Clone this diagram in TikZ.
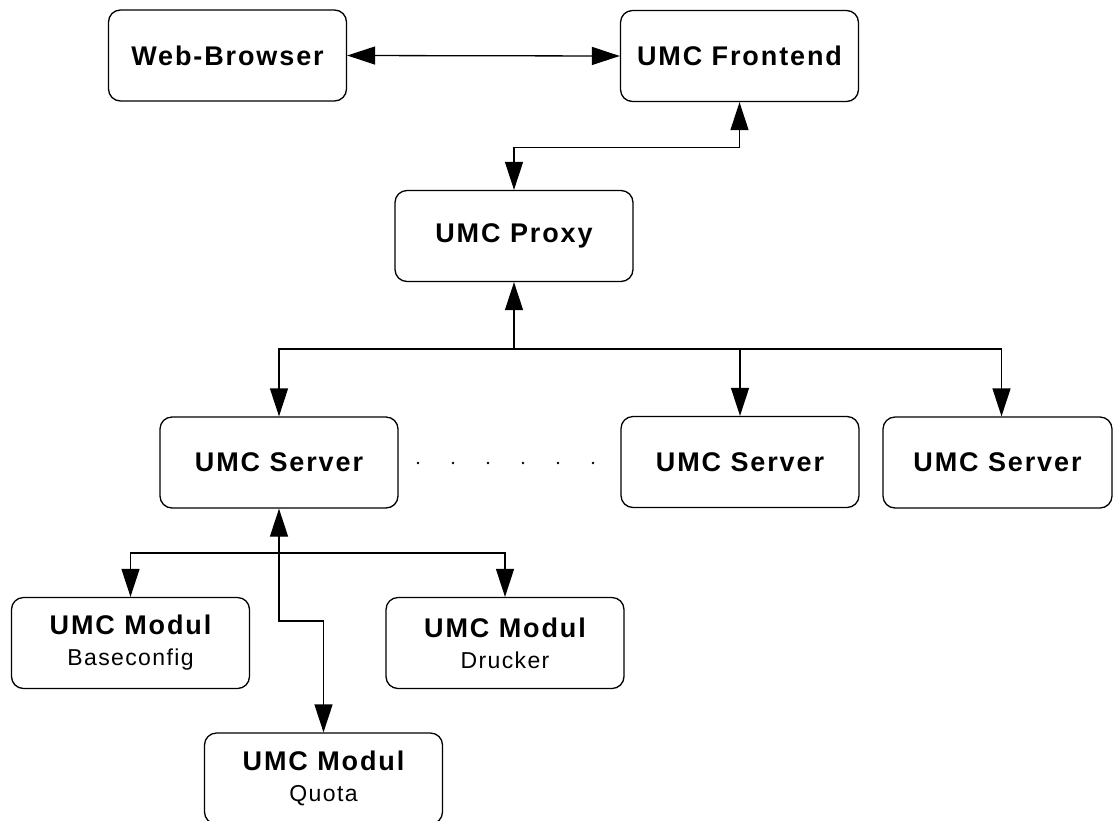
\documentclass[tikz,border=0pt]{standalone}
\usepackage{fontspec}
\setmainfont{Liberation Sans}
\newfontfamily\umcfont[LetterSpace=7]{Liberation Sans}
\usetikzlibrary{arrows.meta}

\newcommand{\modsub}[1]{{\fontsize{23}{31}\selectfont\mdseries\addfontfeature{LetterSpace=6}#1}}

\tikzset{
  box/.style={draw, line width=1.3pt, rounded corners=12pt, minimum width=238pt, minimum height=91pt,
    inner sep=0pt, align=center, font=\umcfont\bfseries\fontsize{27}{31}\selectfont},
  toarr/.style={line width=1.3pt, -{Triangle[length=28pt,width=18pt]}},
  fromarr/.style={line width=1.3pt, {Triangle[length=28pt,width=18pt]}-},
  botharr/.style={line width=1.3pt, {Triangle[length=28pt,width=18pt]}-{Triangle[length=28pt,width=18pt]}}
}

\begin{document}
\begin{tikzpicture}[x=1pt,y=-1pt]
\useasboundingbox (0,0) rectangle (1115,820);
\clip (0,0) rectangle (1115,820);
\node[box] (browser) at (227.5,55.5) {Web-Browser};
\node[box] (frontend) at (739.5,56) {UMC Frontend};
\node[box] (proxy) at (514,236) {UMC Proxy};
\node[box] (server1) at (279,462.5) {UMC Server};
\node[box] (server2) at (740,462) {UMC Server};
\node[box, minimum width=229pt] (server3) at (997.5,462.5) {UMC Server};
\node[box] (baseconfig) at (130.5,643) {UMC Modul\\\modsub{Baseconfig}};
\node[box] (drucker) at (505,643) {UMC Modul\\\modsub{Drucker}};
\node[box] (quota) at (323.5,778.5) {UMC Modul\\\modsub{Quota}};
\coordinate (proxybus) at (514,349);
\coordinate (serverbus) at (279,553);
\draw[botharr] (browser.east) -- (frontend.west);
\draw[botharr] (frontend.south) -- ++(0,45) -| (proxy.north);
\draw[fromarr] (proxy.south) -- (proxybus);
\draw[toarr] (proxybus) -| (server1.north);
\draw[toarr] (proxybus) -| (server2.north);
\draw[toarr] (proxybus) -| ([xshift=4pt]server3.north);
\draw[fromarr] (server1.south) -- (serverbus);
\draw[toarr] (serverbus) -| (baseconfig.north);
\draw[toarr] (serverbus) -| (drucker.north);
\draw[toarr] (serverbus) -- ++(0,68) -| (quota.north);
\foreach \x in {418,453,...,593} \fill (\x,463) circle (1.3pt);
\end{tikzpicture}
\end{document}
